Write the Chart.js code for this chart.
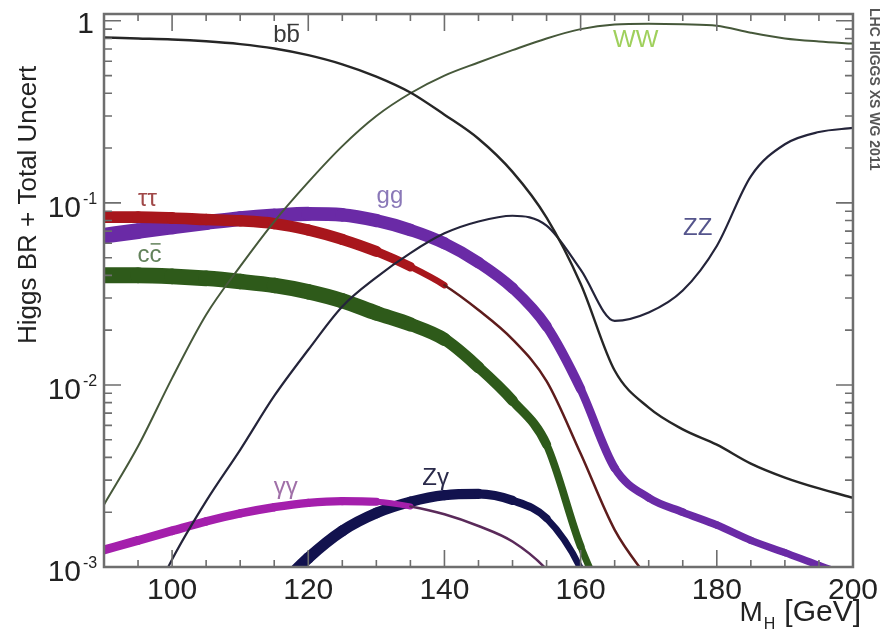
<!DOCTYPE html>
<html>
<head>
<meta charset="utf-8">
<script src="https://cdn.jsdelivr.net/npm/chart.js@4.4.1/dist/chart.umd.min.js"></script>
<style>
  html, body { margin: 0; padding: 0; background: #fff; }
  canvas { display: block; }
</style>
</head>
<body>
<canvas id="graficoBR" width="884" height="632"></canvas>
<script>
// Higgs branching ratios vs mass (GeV)
const massas = [90, 95, 100, 105, 110, 115, 120, 125, 130, 135, 140, 145, 150, 155, 160, 165, 170, 175, 180, 185, 190, 195, 200];

const brBB = [0.81, 0.80, 0.79, 0.772, 0.745, 0.705, 0.648, 0.577, 0.494, 0.404, 0.305, 0.225, 0.148, 0.083, 0.036, 0.012, 0.0075, 0.0057, 0.0047, 0.0037, 0.0031, 0.0027, 0.0024];
const brWW = [0.0022, 0.0046, 0.0109, 0.0243, 0.0448, 0.079, 0.130, 0.205, 0.30, 0.40, 0.50, 0.59, 0.69, 0.80, 0.90, 0.955, 0.965, 0.958, 0.94, 0.86, 0.80, 0.77, 0.75];
const brZZ = [0.0002, 0.00045, 0.0011, 0.0023, 0.0044, 0.0087, 0.0156, 0.027, 0.039, 0.053, 0.068, 0.079, 0.085, 0.075, 0.043, 0.0225, 0.025, 0.033, 0.058, 0.14, 0.21, 0.245, 0.258];
const brTauTau = [0.0835, 0.0835, 0.0826, 0.081, 0.0797, 0.077, 0.071, 0.063, 0.0541, 0.0446, 0.0353, 0.0258, 0.0178, 0.0105, 0.0042, 0.0016, 0.00085, null, null, null, null, null, null];
const brGG = [0.066, 0.070, 0.074, 0.078, 0.082, 0.085, 0.087, 0.086, 0.080, 0.071, 0.060, 0.047, 0.034, 0.021, 0.0095, 0.0035, 0.0024, 0.002, 0.0017, 0.0014, 0.0012, 0.00102, 0.00088];
const brCC = [0.040, 0.040, 0.0395, 0.0385, 0.037, 0.0352, 0.0325, 0.029, 0.0248, 0.0215, 0.0178, 0.0125, 0.0082, 0.0047, 0.0013, 0.0005, null, null, null, null, null, null, null];
const brGamGam = [0.00124, 0.0014, 0.00158, 0.00178, 0.00197, 0.00213, 0.00225, 0.0023, 0.00228, 0.00215, 0.00195, 0.00168, 0.00138, 0.00097, 0.00055, null, null, null, null, null, null, null, null];
const brZGam = [null, null, null, null, 0.00042, 0.00072, 0.00112, 0.00158, 0.00198, 0.00228, 0.00248, 0.00252, 0.00232, 0.00185, 0.00098, 0.0003, null, null, null, null, null, null, null];

// axis ticks
const rotulosX = [100, 120, 140, 160, 180, 200];
const ticksY = [0.001, 0.01, 0.1, 1];
const expoentesY = ['-3', '-2', '-1', ''];

const fonte = '"Liberation Sans", Arial, sans-serif';

function pontos(valores) {
    return massas.map((m, i) => ({ x: m, y: valores[i] }));
}

// band width along the mass axis, from [mass, px] pairs
function interpola(pares, m) {
    if (m <= pares[0][0]) return pares[0][1];
    for (let i = 1; i < pares.length; i++) {
        if (m <= pares[i][0]) {
            const [m0, w0] = pares[i - 1];
            const [m1, w1] = pares[i];
            return w0 + (w1 - w0) * (m - m0) / (m1 - m0);
        }
    }
    return pares[pares.length - 1][1];
}

function linha(rotulo, valores, cor, largura) {
    return {
        label: rotulo,
        data: pontos(valores),
        borderColor: cor,
        borderWidth: largura,
        pointRadius: 0,
        cubicInterpolationMode: 'monotone',
        clip: 0
    };
}

function faixa(rotulo, valores, cor, corFina, larguras) {
    const largura = ctx => interpola(larguras, (ctx.p0.parsed.x + ctx.p1.parsed.x) / 2);
    return {
        label: rotulo,
        data: pontos(valores),
        borderColor: cor,
        borderWidth: larguras[0][1],
        borderCapStyle: 'round',
        borderJoinStyle: 'round',
        pointRadius: 0,
        cubicInterpolationMode: 'monotone',
        clip: 0,
        segment: {
            borderWidth: largura,
            borderColor: ctx => largura(ctx) < 4 ? corFina : cor
        }
    };
}

// curve names written next to each curve, anchored in (mass, BR)
const nomes = [
    { texto: 'bb', barra: true, m: 116.8, br: 0.83, cor: '#3a3a3a' },
    { texto: 'WW', m: 168.1, br: 0.78, cor: '#9fd05c' },
    { texto: 'ZZ', m: 177.2, br: 0.072, cor: '#55558c' },
    { texto: 'gg', m: 132.0, br: 0.108, cor: '#8a78b8' },
    { texto: '\u03c4\u03c4', m: 96.4, br: 0.104, cor: '#a04848' },
    { texto: 'cc', barra: true, m: 96.7, br: 0.0518, cor: '#62825a' },
    { texto: '\u03b3\u03b3', m: 116.7, br: 0.00275, cor: '#a070a8' },
    { texto: 'Z\u03b3', m: 138.7, br: 0.00305, cor: '#2a2a4a' }
];

const moldura = {
    id: 'moldura',
    afterDraw(chart) {
        const { ctx, chartArea: a, scales: { x, y } } = chart;
        ctx.save();

        // inward ticks on all four sides
        ctx.strokeStyle = '#6e6e6e';
        ctx.lineWidth = 1.6;
        ctx.beginPath();
        x.ticks.forEach(t => {
            const px = x.getPixelForValue(t.value);
            const len = t.value % 20 === 0 ? 17 : 7;
            ctx.moveTo(px, a.bottom); ctx.lineTo(px, a.bottom - len);
            ctx.moveTo(px, a.top); ctx.lineTo(px, a.top + len);
        });
        y.ticks.forEach(t => {
            const exp = Math.floor(Math.log10(t.value) + 1e-9);
            const mant = t.value / Math.pow(10, exp);
            if (Math.abs(mant - Math.round(mant)) > 1e-6) return;
            const py = y.getPixelForValue(t.value);
            const len = Math.round(mant) === 1 ? 17 : 8;
            ctx.moveTo(a.left, py); ctx.lineTo(a.left + len, py);
            ctx.moveTo(a.right, py); ctx.lineTo(a.right - len, py);
        });
        ctx.stroke();

        ctx.lineWidth = 2.5;
        ctx.strokeRect(a.left, a.top, a.right - a.left, a.bottom - a.top);

        // y tick labels as powers of ten
        ctx.fillStyle = '#222';
        ctx.textBaseline = 'middle';
        ticksY.forEach((v, i) => {
            const py = y.getPixelForValue(v);
            if (expoentesY[i]) {
                ctx.font = '30px ' + fonte;
                ctx.textAlign = 'right';
                ctx.fillText('10', 81, py + 6);
                ctx.font = '16px ' + fonte;
                ctx.textAlign = 'left';
                ctx.fillText(expoentesY[i], 83, py - 3);
            } else {
                ctx.font = '30px ' + fonte;
                ctx.textAlign = 'right';
                ctx.fillText('1', 94, py + 4);
            }
        });

        // axis titles
        ctx.save();
        ctx.translate(29, 344);
        ctx.rotate(-Math.PI / 2);
        ctx.font = '26px ' + fonte;
        ctx.textAlign = 'left';
        ctx.fillText('Higgs BR + Total Uncert', 0, 0);
        ctx.restore();

        ctx.textBaseline = 'alphabetic';
        ctx.textAlign = 'right';
        ctx.font = '30px ' + fonte;
        const fim = 861;
        ctx.fillText('[GeV]', fim, 621);
        const wGev = ctx.measureText('[GeV]').width;
        ctx.font = '16px ' + fonte;
        ctx.fillText('H', fim - wGev - 9, 629);
        const wH = ctx.measureText('H').width;
        ctx.font = '28px ' + fonte;
        ctx.fillText('M', fim - wGev - 10 - wH, 621);

        // curve names
        ctx.font = '24px ' + fonte;
        ctx.textAlign = 'center';
        ctx.textBaseline = 'middle';
        nomes.forEach(n => {
            const px = x.getPixelForValue(n.m);
            const py = y.getPixelForValue(n.br);
            ctx.fillStyle = n.cor;
            ctx.fillText(n.texto, px, py);
            if (n.barra) {
                const w = ctx.measureText(n.texto).width;
                const wl = ctx.measureText(n.texto[0]).width;
                ctx.strokeStyle = n.cor;
                ctx.lineWidth = 1.5;
                ctx.beginPath();
                ctx.moveTo(px - w / 2 + wl + 1, py - 11);
                ctx.lineTo(px + w / 2 - 1, py - 11);
                ctx.stroke();
            }
        });

        // working group stamp
        ctx.save();
        ctx.translate(874, 8);
        ctx.rotate(Math.PI / 2);
        ctx.font = 'bold 14px ' + fonte;
        ctx.fillStyle = '#555';
        ctx.textAlign = 'left';
        ctx.fillText('LHC HIGGS XS WG 2011', 0, 0);
        ctx.restore();

        ctx.restore();
    }
};

const graficoBR = new Chart(document.getElementById('graficoBR'), {
    type: 'line',
    data: {
        datasets: [
            linha('bb', brBB, '#262626', 2.4),
            linha('WW', brWW, '#46583a', 2),
            linha('ZZ', brZZ, '#24243a', 2.2),
            faixa('tautau', brTauTau, '#a8161c', '#5e1c1c', [[90, 12], [128, 11], [136, 8], [141, 2.5]]),
            faixa('gg', brGG, '#6a2aa6', '#4a1e86', [[90, 16], [120, 14], [150, 11], [165, 8], [200, 7]]),
            faixa('cc', brCC, '#2e5a1a', '#1e3a12', [[90, 16], [130, 15], [150, 10], [160, 7]]),
            faixa('gamgam', brGamGam, '#a41fac', '#5a2a5a', [[90, 9], [130, 8], [137, 2.5]]),
            faixa('Zgam', brZGam, '#12124e', '#12124e', [[110, 12], [145, 10], [155, 7], [165, 6]])
        ]
    },
    options: {
        responsive: false,
        devicePixelRatio: 1,
        animation: false,
        events: [],
        layout: { padding: { left: 0, right: 26, top: 14, bottom: 0 } },
        plugins: {
            legend: { display: false },
            tooltip: { enabled: false }
        },
        scales: {
            x: {
                type: 'linear',
                min: 90,
                max: 200,
                grid: { display: false, drawTicks: false },
                border: { display: false },
                ticks: {
                    stepSize: 5,
                    autoSkip: false,
                    maxRotation: 0,
                    padding: 6,
                    color: '#222',
                    font: { family: fonte, size: 30 },
                    callback: v => rotulosX.includes(v) ? String(v) : ''
                },
                afterFit: scale => { scale.height = 65; }
            },
            y: {
                type: 'logarithmic',
                min: 0.001,
                max: 1.09,
                grid: { display: false, drawTicks: false },
                border: { display: false },
                ticks: { display: false, autoSkip: false },
                afterFit: scale => { scale.width = 104; }
            }
        }
    },
    plugins: [moldura]
});
</script>
</body>
</html>
